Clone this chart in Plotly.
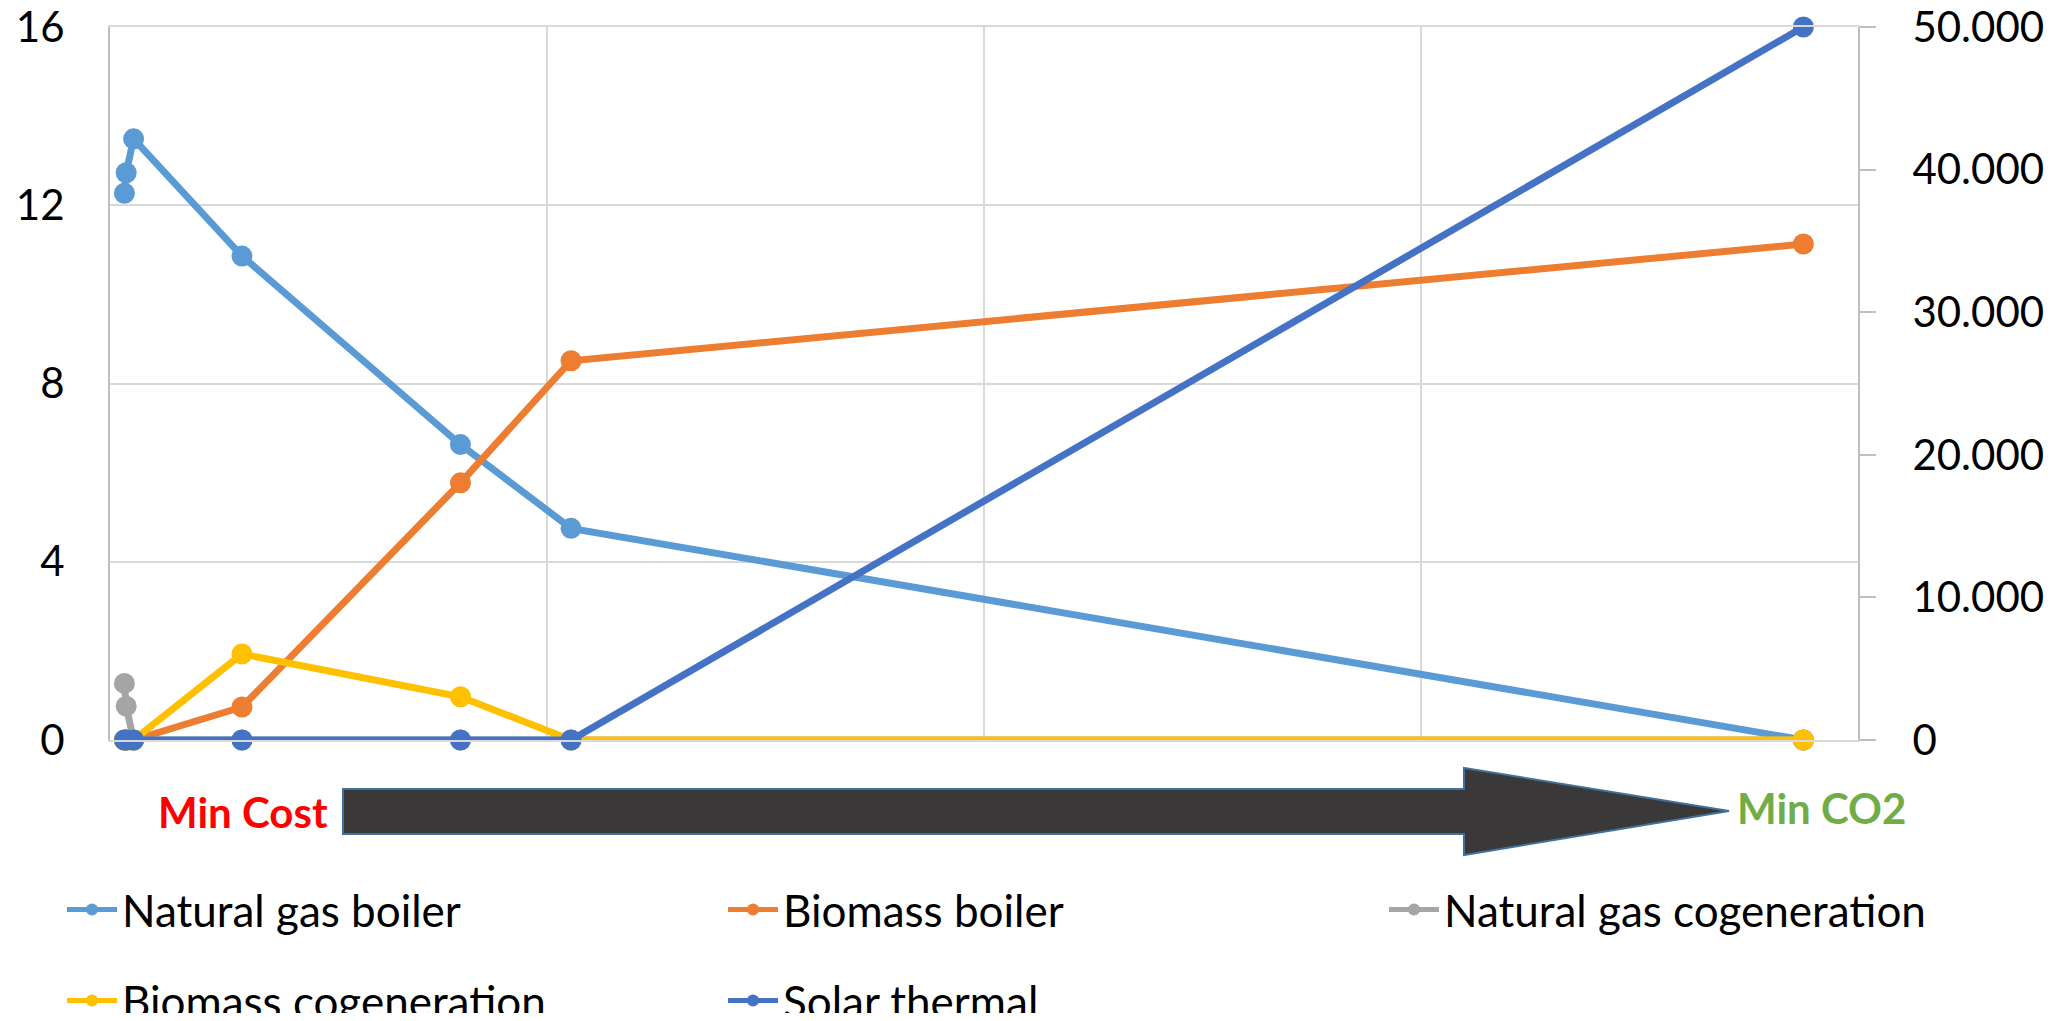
import plotly.graph_objects as go

# ---- data ----
x_points = [3.3, 3.7, 5.4, 30.2, 80.2, 105.5, 387.5]
natural_gas_boiler = [12.27, 12.73, 13.49, 10.86, 6.63, 4.75, 0]
biomass_boiler = [0, 0, 0, 0.74, 5.77, 8.51, 11.13]
natural_gas_cogeneration = [1.27, 0.76, 0, 0, 0, 0, 0]
biomass_cogeneration = [0, 0, 0, 1.93, 0.97, 0, 0]
solar_thermal = [0, 0, 0, 0, 0, 0, 50000]

left_ticks = [0, 4, 8, 12, 16]
right_ticks = [0, 10000, 20000, 30000, 40000, 50000]

OFF = 8                      # default body margin of the html page
W, H = 2058 - 2 * OFF, 1021 - 2 * OFF
L, R, T, B = 110, 1858, 27, 740  # plot area in page px
FONT = "Lato, Calibri, sans-serif"


def px2paper(px, py):
    return (px - L) / (R - L), (B - py) / (B - T)


def cont_x(page_x):
    return (page_x - OFF) / W


def cont_y(page_y):
    return 1 - (page_y - OFF) / H


fig = go.Figure()

# (name, values, colour, y axis, legend id, legend x px, legend y px)
series = [
    ("Natural gas boiler", natural_gas_boiler, "#5B9BD5", "y", "legend", 62, 910),
    ("Biomass boiler", biomass_boiler, "#ED7D31", "y", "legend2", 723, 910),
    ("Natural gas cogeneration", natural_gas_cogeneration, "#A5A5A5", "y", "legend3", 1384, 910),
    ("Biomass cogeneration", biomass_cogeneration, "#FFC000", "y", "legend4", 62, 1001),
    ("Solar thermal", solar_thermal, "#4472C4", "y2", "legend5", 723, 1001),
]
legends = {}
for name, vals, col, yax, leg, lx, ly in series:
    fig.add_trace(go.Scatter(
        x=x_points, y=vals, name=name, mode="lines+markers",
        line=dict(color=col, width=7),
        marker=dict(color=col, size=21),
        yaxis=yax, legend=leg, cliponaxis=False,
    ))
    legends[leg] = dict(
        orientation="h", xref="container", yref="container",
        x=cont_x(lx), y=cont_y(ly), xanchor="left", yanchor="middle",
        font=dict(family=FONT, size=44, color="#000000"),
        bgcolor="rgba(0,0,0,0)", itemsizing="constant", itemwidth=50,
    )

# arrow shape
pts = [(343, 789), (1464, 789), (1464, 768), (1729, 811), (1464, 855), (1464, 834), (343, 834)]
path = ""
for i, (px, py) in enumerate(pts):
    xx, yy = px2paper(px, py)
    path += ("M" if i == 0 else "L") + f"{xx:.5f},{yy:.5f} "
path += "Z"
fig.add_shape(type="path", path=path, xref="paper", yref="paper",
              fillcolor="#3A3838", line=dict(color="#41719C", width=2), layer="above")

ax, ay = px2paper(243, 812)
fig.add_annotation(text="<b>Min Cost</b>", x=ax, y=ay, xref="paper", yref="paper",
                   xanchor="center", yanchor="middle",
                   showarrow=False, font=dict(family=FONT, size=42, color="#FF0000"))
ax, ay = px2paper(1821, 808)
fig.add_annotation(text="<b>Min CO2</b>", x=ax, y=ay, xref="paper", yref="paper",
                   xanchor="center", yanchor="middle",
                   showarrow=False, font=dict(family=FONT, size=42, color="#70AD47"))

fig.update_layout(
    width=W, height=H,
    margin=dict(l=L - OFF, r=W - (R - OFF), t=T - OFF, b=H - (B - OFF), autoexpand=False),
    plot_bgcolor="white", paper_bgcolor="white",
    separators=",.",
    font=dict(family=FONT, size=42, color="#000000"),
    showlegend=True,
    xaxis=dict(range=[0, 400], dtick=100, showticklabels=False, showgrid=True,
               gridcolor="#D9D9D9", gridwidth=2, zeroline=False,
               showline=True, mirror=True, linecolor="#D9D9D9", linewidth=2, ticks=""),
    yaxis=dict(range=[0, 16], tickvals=left_ticks, showgrid=True, gridcolor="#D9D9D9",
               gridwidth=2, zeroline=False, showline=True, linecolor="#BFBFBF", linewidth=2,
               ticks="", ticklabelstandoff=35, ticklabeloverflow="allow",
               tickfont=dict(family=FONT, size=42, color="#000000")),
    yaxis2=dict(range=[0, 50000], tickvals=right_ticks, tickformat=",d", overlaying="y",
                side="right", showgrid=False, zeroline=False, showline=True,
                linecolor="#BFBFBF", linewidth=2, ticks="outside", ticklen=16,
                tickcolor="#BFBFBF", tickwidth=2, ticklabelstandoff=28,
                ticklabeloverflow="allow",
                tickfont=dict(family=FONT, size=42, color="#000000")),
    **legends,
)

fig.write_html("out.html")
